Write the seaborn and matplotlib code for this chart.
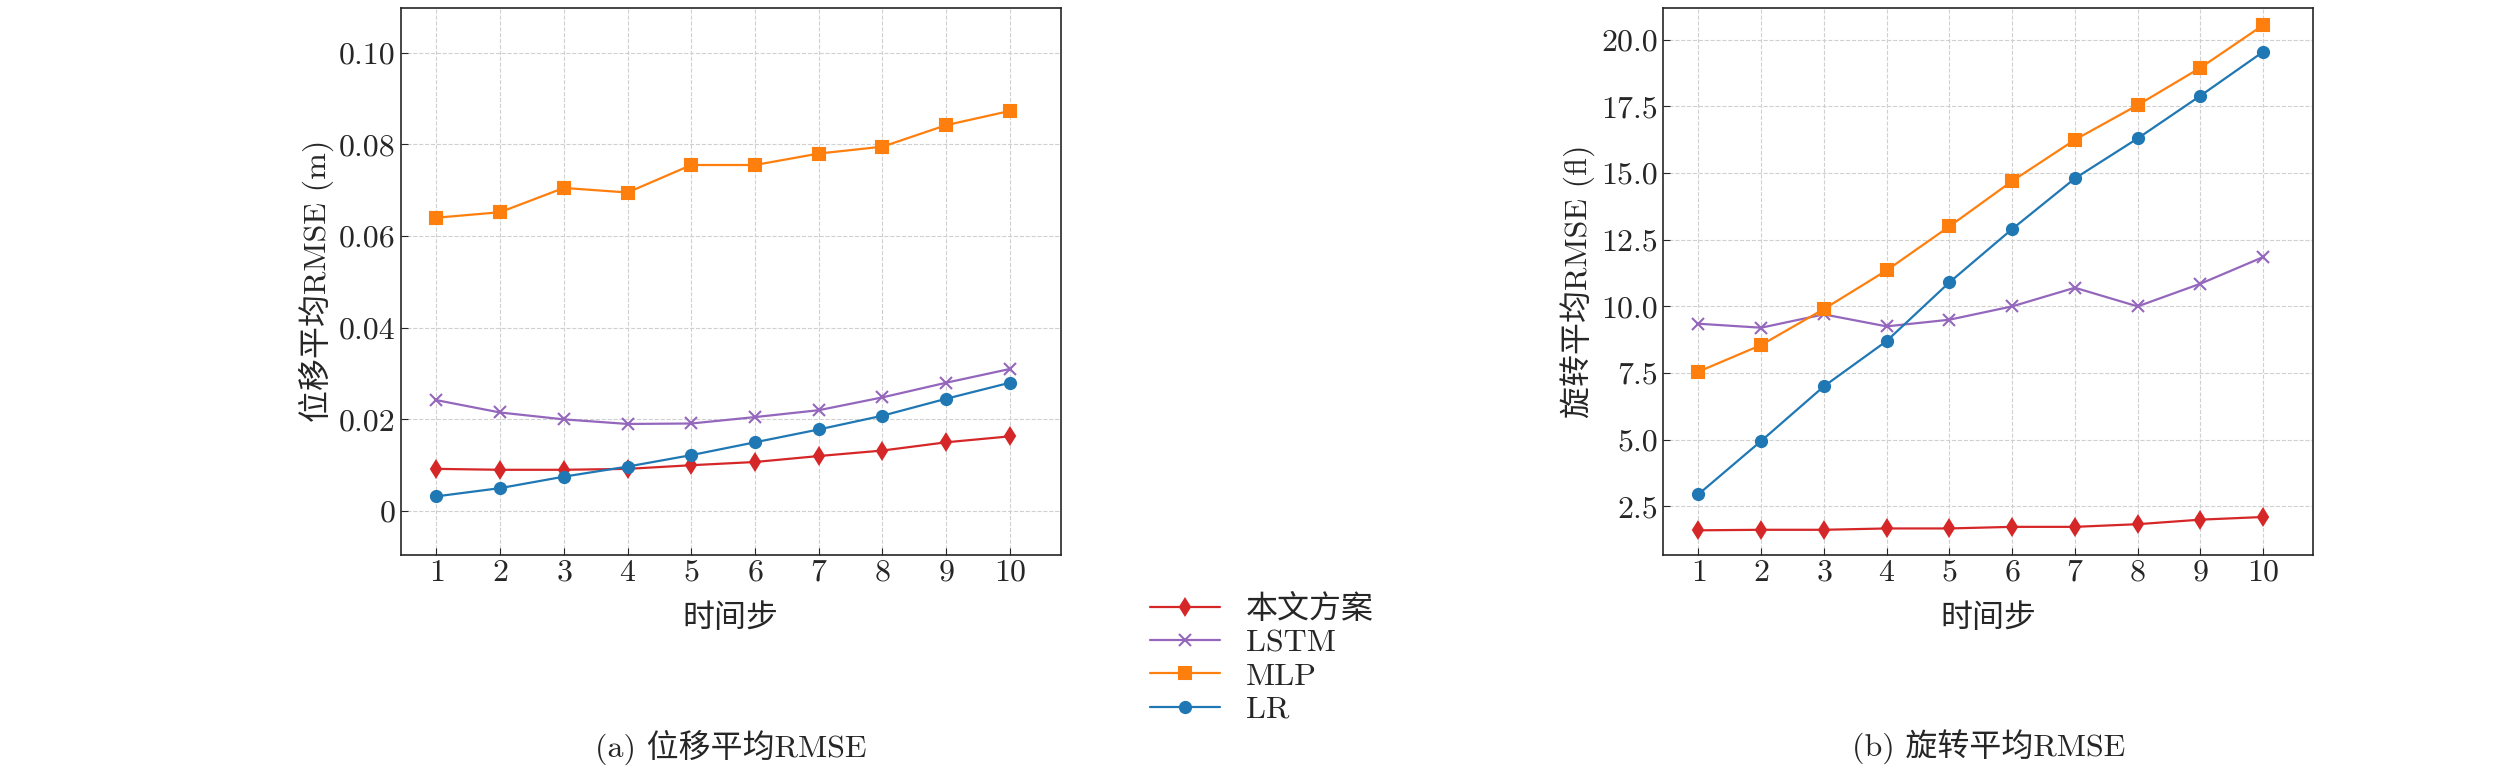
import matplotlib
matplotlib.use("Agg")
import matplotlib.pyplot as plt
import seaborn as sns

steps = list(range(1, 11))
series_names = ["本文方案", "LSTM", "MLP", "LR"]
colors = ["#d62728", "#9467bd", "#ff7f0e", "#1f77b4"]
markers = ["d", "x", "s", "o"]

trans_ours = [0.0092, 0.0090, 0.0090, 0.0092, 0.0100, 0.0107, 0.0120, 0.0132, 0.0150, 0.0163]
trans_lstm = [0.0242, 0.0215, 0.0200, 0.0190, 0.0191, 0.0205, 0.0220, 0.0248, 0.0280, 0.0310]
trans_mlp = [0.0640, 0.0652, 0.0705, 0.0695, 0.0755, 0.0755, 0.0780, 0.0795, 0.0842, 0.0873]
trans_lr = [0.0032, 0.0050, 0.0075, 0.0097, 0.0122, 0.0150, 0.0178, 0.0208, 0.0245, 0.0280]

rot_ours = [1.60, 1.62, 1.62, 1.67, 1.67, 1.73, 1.73, 1.83, 2.00, 2.10]
rot_lstm = [9.35, 9.20, 9.70, 9.25, 9.50, 10.00, 10.70, 10.00, 10.85, 11.85]
rot_mlp = [7.55, 8.55, 9.90, 11.35, 13.00, 14.70, 16.25, 17.55, 18.95, 20.55]
rot_lr = [2.95, 4.95, 7.00, 8.70, 10.90, 12.90, 14.80, 16.30, 17.90, 19.55]

sns.set_style("ticks")
plt.rcParams["font.family"] = ["cmr10", "Noto Sans CJK SC"]
plt.rcParams["mathtext.fontset"] = "cm"
plt.rcParams["axes.formatter.use_mathtext"] = True
plt.rcParams["axes.unicode_minus"] = False
FS = 23

fig = plt.figure(figsize=(25.2, 7.8), dpi=100)
ax1 = fig.add_axes([0.159, 0.289, 0.262, 0.701])
ax2 = fig.add_axes([0.660, 0.289, 0.258, 0.701])

for ax, cols in [(ax1, [trans_ours, trans_lstm, trans_mlp, trans_lr]),
                 (ax2, [rot_ours, rot_lstm, rot_mlp, rot_lr])]:
    for name, vals, c, m in zip(series_names, cols, colors, markers):
        sns.lineplot(x=steps, y=vals, color=c, marker=m, markersize=8,
                     markeredgewidth=1.5, markeredgecolor=c, linewidth=1.6,
                     label=name, ax=ax, legend=False)
    ax.set_xlim(0.44, 10.8)
    ax.set_xticks(steps)
    ax.grid(True, linestyle="--", color="#d0d0d0", linewidth=0.8)
    ax.tick_params(labelsize=FS, direction="in", length=5)
    ax.set_xlabel("时间步", fontsize=FS, labelpad=12)
    for sp in ax.spines.values():
        sp.set_linewidth(1.2)

ax1.set_ylim(-0.0095, 0.1098)
ax1.set_yticks([0, 0.02, 0.04, 0.06, 0.08, 0.10])
ax1.set_yticklabels(["0", "0.02", "0.04", "0.06", "0.08", "0.10"])
ax1.set_ylabel("位移平均RMSE (m)", fontsize=FS)
ax2.set_ylim(0.69, 21.2)
ax2.set_yticks([2.5, 5, 7.5, 10, 12.5, 15, 17.5, 20])
ax2.set_yticklabels(["2.5", "5.0", "7.5", "10.0", "12.5", "15.0", "17.5", "20.0"])
ax2.set_ylabel("旋转平均RMSE (°)", fontsize=FS)

h, l = ax1.get_legend_handles_labels()
fig.legend(h, l, loc="upper left", bbox_to_anchor=(0.445, 0.275), frameon=False,
           fontsize=FS, handlelength=2.2, labelspacing=0.15)

fig.text(0.29, 0.03, "(a) 位移平均RMSE", ha="center", fontsize=FS)
fig.text(0.789, 0.03, "(b) 旋转平均RMSE", ha="center", fontsize=FS)

fig.savefig("out.png", dpi=100)
